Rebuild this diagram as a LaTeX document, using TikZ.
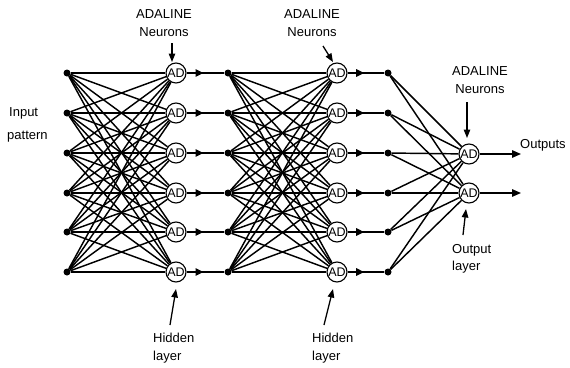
\documentclass[tikz,border=0pt]{standalone}
\usepackage{fontspec}
\setmainfont{Liberation Sans}
\usetikzlibrary{arrows.meta,decorations.markings}
\begin{document}
\begin{tikzpicture}[x=1pt,y=-1pt,
 dotnode/.style={circle,fill=black,inner sep=0pt,minimum size=7pt},
 adnode/.style={circle,draw,line width=1.1pt,fill=white,inner sep=0pt,minimum size=20pt,font=\fontsize{12.5}{12}\selectfont},
 conn/.style={line width=1.45pt},
 midarrow/.style={line width=1.45pt,postaction={decorate},decoration={markings,mark=at position 0.45 with {\arrow{Triangle[length=8pt,width=7.5pt]}}}},
 lbl/.style={font=\fontsize{13}{17.5}\selectfont,inner sep=0pt},
 ptr/.style={line width=1.3pt,-{Triangle[length=8.5pt,width=6.5pt]}},
 outarrow/.style={line width=1.45pt,-{Triangle[length=9pt,width=7.5pt]}}]
\useasboundingbox (0,0) rectangle (570,367);
% nodes
\foreach \i/\y in {1/73,2/113,3/153,4/193,5/232,6/272}{
  \node[dotnode] (i\i) at (67,\y) {};
  \node[dotnode] (d\i) at (228,\y) {};
  \node[dotnode] (e\i) at (388,\y) {};
  \node[adnode] (a\i) at (176,\y) {AD};
  \node[adnode] (b\i) at (337,\y) {AD};
}
\node[adnode] (o1) at (469,154) {AD};
\node[adnode] (o2) at (469,193) {AD};
% connections
\foreach \i in {1,...,6}{
  \foreach \j in {1,...,6}{
    \draw[conn] (i\i) -- (a\j);
    \draw[conn] (d\i) -- (b\j);
  }
  \draw[conn] (e\i) -- (o1);
  \draw[conn] (e\i) -- (o2);
  \draw[midarrow] (a\i) -- (d\i);
  \draw[midarrow] (b\i) -- (e\i);
}
\coordinate (q1) at (521,154);
\coordinate (q2) at (521,193);
\draw[outarrow] (o1) -- (q1);
\draw[outarrow] (o2) -- (q2);
% labels
\node[lbl,align=center] (n1) at (164,23) {ADALINE\\Neurons};
\node[lbl,align=center] (n2) at (312,23) {ADALINE\\Neurons};
\node[lbl,align=center] (n3) at (480,80) {ADALINE\\Neurons};
\node[lbl,anchor=west] (ip1) at (9,113) {Input};
\node[lbl,anchor=west] (ip2) at (7,137) {pattern};
\node[lbl,align=left,anchor=west] (h1) at (153,348) {Hidden\\layer};
\node[lbl,align=left,anchor=west] (h2) at (312,348) {Hidden\\layer};
\node[lbl,align=left,anchor=west] (ol) at (452,259) {Output\\layer};
\node[lbl,anchor=west] (out) at (520,145) {Outputs};
% pointers
\coordinate (p1s) at (172,43); \coordinate (p1e) at (172,62);
\coordinate (p2s) at (323,46); \coordinate (p2e) at (333,62);
\coordinate (p3s) at (467,102); \coordinate (p3e) at (467,138);
\coordinate (p4s) at (170,325); \coordinate (p4e) at (176,289);
\coordinate (p5s) at (324,325); \coordinate (p5e) at (333,289);
\coordinate (p6s) at (463,235); \coordinate (p6e) at (466,209);
\draw[ptr] (p1s) -- (p1e);
\draw[ptr] (p2s) -- (p2e);
\draw[ptr] (p3s) -- (p3e);
\draw[ptr] (p4s) -- (p4e);
\draw[ptr] (p5s) -- (p5e);
\draw[ptr] (p6s) -- (p6e);
\end{tikzpicture}
\end{document}
